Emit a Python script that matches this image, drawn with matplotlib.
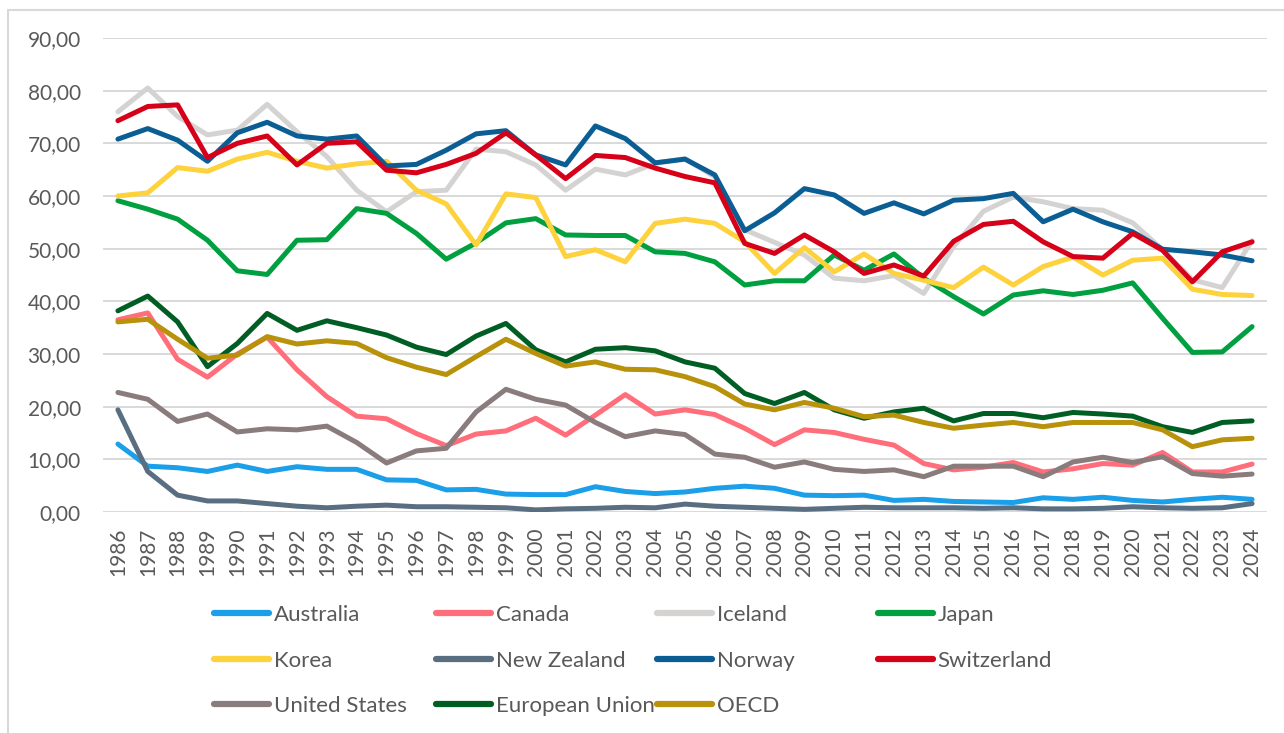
import matplotlib.pyplot as plt
from matplotlib.lines import Line2D
from matplotlib.patches import Rectangle
from matplotlib.ticker import FuncFormatter

plt.rcParams['font.family'] = ['Lato', 'DejaVu Sans']

years = list(range(1986, 2025))

australia = [12.9, 8.7, 8.4, 7.7, 8.9, 7.7, 8.6, 8.1, 8.1, 6.1, 6.0, 4.2, 4.3, 3.4, 3.3, 3.3, 4.8, 3.9, 3.5, 3.8,
             4.5, 4.9, 4.5, 3.2, 3.1, 3.2, 2.2, 2.4, 2.0, 1.9, 1.8, 2.7, 2.4, 2.8, 2.2, 1.9, 2.4, 2.8, 2.4]
canada = [36.5, 37.8, 29.0, 25.6, 30.0, 33.2, 27.0, 21.9, 18.2, 17.7, 14.9, 12.6, 14.8, 15.4, 17.8, 14.6, 18.4, 22.3, 18.6, 19.4,
          18.5, 15.9, 12.8, 15.6, 15.1, 13.8, 12.7, 9.2, 8.0, 8.5, 9.4, 7.6, 8.2, 9.2, 8.9, 11.3, 7.6, 7.6, 9.1]
iceland = [76.0, 80.5, 75.1, 71.6, 72.5, 77.4, 72.2, 67.5, 61.1, 57.0, 60.8, 61.1, 68.9, 68.4, 65.9, 61.1, 65.1, 64.0, 66.2, 67.1,
           63.6, 53.6, 51.2, 48.8, 44.4, 43.9, 44.9, 41.5, 50.4, 57.1, 59.8, 58.9, 57.6, 57.3, 54.9, 49.8, 44.1, 42.6, 51.5]
japan = [59.1, 57.5, 55.6, 51.6, 45.8, 45.1, 51.6, 51.7, 57.6, 56.7, 52.9, 48.0, 51.1, 54.9, 55.7, 52.6, 52.5, 52.5, 49.4, 49.1,
         47.5, 43.1, 43.9, 43.9, 48.8, 45.9, 49.0, 44.4, 40.9, 37.6, 41.2, 42.0, 41.3, 42.1, 43.5, 36.8, 30.3, 30.4, 35.2]
korea = [60.0, 60.6, 65.4, 64.7, 67.0, 68.3, 66.6, 65.3, 66.1, 66.6, 61.1, 58.5, 50.7, 60.4, 59.7, 48.5, 49.8, 47.5, 54.8, 55.6,
         54.8, 51.3, 45.3, 50.2, 45.6, 49.0, 45.3, 44.0, 42.6, 46.5, 43.1, 46.6, 48.4, 45.0, 47.8, 48.2, 42.3, 41.3, 41.1]
new_zealand = [19.4, 7.7, 3.2, 2.1, 2.1, 1.6, 1.1, 0.8, 1.1, 1.3, 1.0, 1.0, 0.9, 0.8, 0.4, 0.6, 0.7, 0.9, 0.8, 1.5,
               1.1, 0.9, 0.7, 0.5, 0.7, 0.9, 0.8, 0.8, 0.8, 0.7, 0.8, 0.6, 0.6, 0.7, 1.0, 0.8, 0.7, 0.8, 1.6]
norway = [70.8, 72.8, 70.6, 66.6, 72.0, 74.0, 71.4, 70.8, 71.4, 65.7, 66.0, 68.7, 71.8, 72.4, 67.8, 65.9, 73.3, 70.9, 66.3, 67.0,
          64.0, 53.4, 56.8, 61.4, 60.2, 56.7, 58.7, 56.6, 59.2, 59.5, 60.5, 55.1, 57.5, 55.1, 53.2, 49.9, 49.4, 48.8, 47.7]
switzerland = [74.3, 77.0, 77.3, 67.3, 70.0, 71.4, 65.9, 70.0, 70.3, 64.9, 64.4, 66.0, 68.1, 72.0, 67.8, 63.3, 67.7, 67.3, 65.3, 63.7,
               62.5, 51.0, 49.1, 52.6, 49.4, 45.3, 46.9, 44.8, 51.4, 54.6, 55.2, 51.3, 48.5, 48.2, 52.9, 49.7, 43.7, 49.4, 51.3]
united_states = [22.7, 21.4, 17.2, 18.6, 15.2, 15.8, 15.6, 16.3, 13.2, 9.3, 11.6, 12.1, 19.0, 23.3, 21.4, 20.3, 17.0, 14.3, 15.4, 14.7,
                 11.0, 10.4, 8.5, 9.5, 8.1, 7.7, 8.0, 6.7, 8.7, 8.7, 8.7, 6.7, 9.5, 10.4, 9.4, 10.5, 7.3, 6.8, 7.2]
european_union = [38.2, 41.0, 36.1, 27.6, 32.0, 37.7, 34.5, 36.3, 35.0, 33.6, 31.3, 29.9, 33.4, 35.8, 30.8, 28.5, 30.9, 31.2, 30.6, 28.5,
                  27.3, 22.5, 20.6, 22.7, 19.4, 17.8, 19.0, 19.7, 17.3, 18.7, 18.7, 17.9, 18.9, 18.6, 18.2, 16.2, 15.1, 17.0, 17.3]
oecd = [36.1, 36.6, 32.8, 29.2, 29.8, 33.3, 31.9, 32.5, 32.0, 29.3, 27.5, 26.1, 29.5, 32.8, 30.1, 27.7, 28.5, 27.1, 27.0, 25.7,
        23.8, 20.5, 19.4, 20.8, 19.7, 18.1, 18.4, 17.0, 15.9, 16.5, 17.0, 16.2, 17.0, 17.0, 17.0, 15.6, 12.4, 13.7, 14.0]

names = ["Australia", "Canada", "Iceland", "Japan", "Korea", "New Zealand", "Norway",
         "Switzerland", "United States", "European Union", "OECD"]
series = [australia, canada, iceland, japan, korea, new_zealand, norway,
          switzerland, united_states, european_union, oecd]
colors = ["#1A9FE8", "#FF6E7A", "#D5D2D2", "#00A040", "#FDD23C", "#5A6E82", "#0B5E93",
          "#D60019", "#8A7C7C", "#005E25", "#B8920A"]

W, H = 1284, 733
fig = plt.figure(figsize=(W / 100, H / 100), dpi=100)
ax = fig.add_axes([103 / W, 1 - 512 / H, 1164 / W, 474 / H])

x = list(range(len(years)))
for name, vals, c in zip(names, series, colors):
    ax.plot(x, vals, color=c, lw=3.6, label=name,
            solid_capstyle='round', solid_joinstyle='round')

ax.set_xlim(-0.5, len(years) - 0.5)
ax.set_ylim(0, 90)
ax.set_yticks(range(0, 91, 10))
ax.yaxis.set_major_formatter(FuncFormatter(lambda v, p: f"{v:.2f}".replace('.', ',')))
ax.set_xticks(x)
ax.set_xticklabels([str(y) for y in years], rotation=90)
ax.tick_params(axis='y', length=0, pad=16, labelsize=15, labelcolor='#595959')
ax.tick_params(axis='x', length=0, pad=11, labelsize=15, labelcolor='#595959')
ax.grid(axis='y', color='#D9D9D9', lw=1.4)
ax.set_axisbelow(True)
for s in ax.spines.values():
    s.set_visible(False)

# legend: 4 equal columns, row-major order
col_x = [214, 436, 657, 878]
for ci, cx in enumerate(col_x):
    idx = list(range(ci, len(names), 4))
    hs = [Line2D([], [], color=colors[i], lw=4.5, solid_capstyle='round') for i in idx]
    lg = fig.legend(hs, [names[i] for i in idx], loc='upper left',
                    bbox_to_anchor=(cx / W, 1 - 605 / H), frameon=False,
                    fontsize=16, handlelength=2.48, handletextpad=0.2,
                    labelspacing=1.15, borderpad=0, borderaxespad=0)
    for t in lg.get_texts():
        t.set_color('#595959')

# chart border
fig.patches.append(Rectangle((8 / W, -0.05), 1.05, 1 - 10 / H + 0.05, transform=fig.transFigure,
                             fill=False, ec='#D9D9D9', lw=1.5))

fig.savefig("out.png", dpi=100)
